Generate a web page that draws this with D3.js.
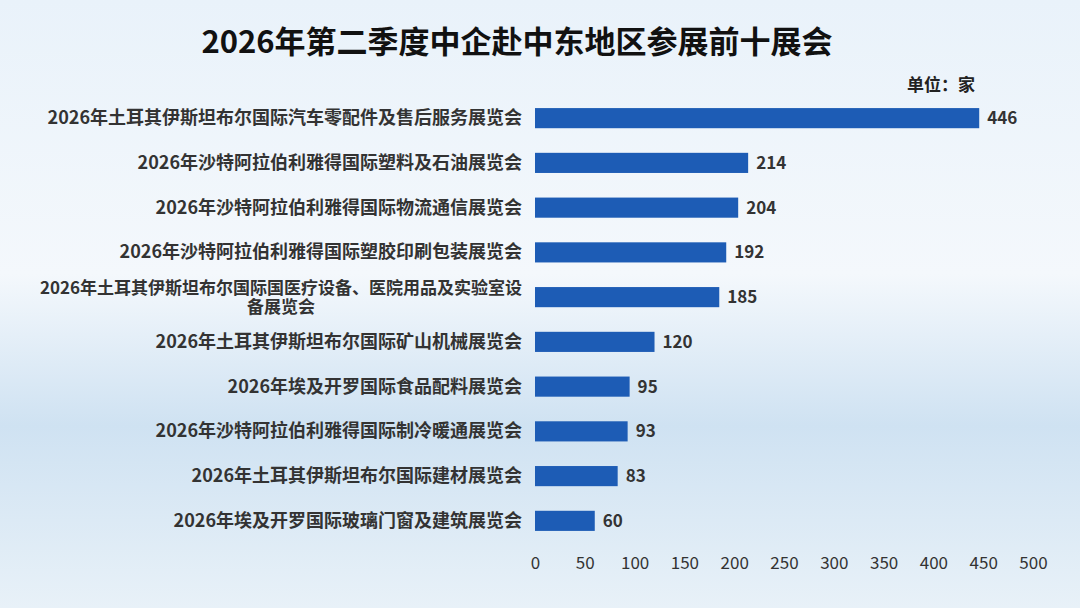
<!DOCTYPE html>
<html><head><meta charset="utf-8">
<script src="https://cdn.jsdelivr.net/npm/d3@7"></script>
<style>
body{margin:0;width:1080px;height:608px;overflow:hidden;font-family:"Noto Sans CJK SC","Noto Sans",sans-serif;}
</style></head><body>
<svg width="1080" height="608"></svg>
<script>
const names = ['2026年土耳其伊斯坦布尔国际汽车零配件及售后服务展览会','2026年沙特阿拉伯利雅得国际塑料及石油展览会','2026年沙特阿拉伯利雅得国际物流通信展览会','2026年沙特阿拉伯利雅得国际塑胶印刷包装展览会','2026年土耳其伊斯坦布尔国际国医疗设备、医院用品及实验室设备展览会','2026年土耳其伊斯坦布尔国际矿山机械展览会','2026年埃及开罗国际食品配料展览会','2026年沙特阿拉伯利雅得国际制冷暖通展览会','2026年土耳其伊斯坦布尔国际建材展览会','2026年埃及开罗国际玻璃门窗及建筑展览会']
const counts = [446, 214, 204, 192, 185, 120, 95, 93, 83, 60]
const ticks = [0, 50, 100, 150, 200, 250, 300, 350, 400, 450, 500]

const svg = d3.select('svg')
const defs = svg.append('defs')
const g1 = defs.append('linearGradient').attr('id', 'bg').attr('x1', 0).attr('y1', 0).attr('x2', 0).attr('y2', 1)
g1.append('stop').attr('offset', '0%').attr('stop-color', '#e9f2fa')
g1.append('stop').attr('offset', '45%').attr('stop-color', '#f4f8fc')
g1.append('stop').attr('offset', '70%').attr('stop-color', '#cfe2f2')
g1.append('stop').attr('offset', '100%').attr('stop-color', '#e8f1f8')
svg.append('rect').attr('width', 1080).attr('height', 608).attr('fill', 'url(#bg)')

svg.append('text').attr('x', 517).attr('y', 53).attr('text-anchor', 'middle')
  .attr('font-size', 31).attr('font-weight', 'bold').attr('fill', '#111')
  .text('2026年第二季度中企赴中东地区参展前十展会')
svg.append('text').attr('x', 975).attr('y', 91).attr('text-anchor', 'end')
  .attr('font-size', 17).attr('font-weight', 'bold').attr('fill', '#222').text('单位：家')

const x = d3.scaleLinear().domain([0, 500]).range([535, 1033])
const y = d3.scaleBand().domain(names).range([96, 543]).paddingInner(0.55).paddingOuter(0.27)

svg.selectAll('.bar').data(names).enter().append('rect')
  .attr('x', x(0)).attr('y', d => y(d))
  .attr('width', (d, i) => x(counts[i]) - x(0)).attr('height', y.bandwidth())
  .attr('fill', '#1d5cb5')

svg.selectAll('.val').data(names).enter().append('text')
  .attr('x', (d, i) => x(counts[i]) + 8).attr('y', d => y(d) + y.bandwidth() / 2 + 6)
  .attr('font-size', 17).attr('font-weight', 'bold').attr('fill', '#333')
  .text((d, i) => counts[i])

const maxChars = 30
names.forEach(n => {
  const cy = y(n) + y.bandwidth() / 2
  if (n.length <= maxChars) {
    svg.append('text').attr('x', 522).attr('y', cy + 6).attr('text-anchor', 'end')
      .attr('font-size', 18).attr('font-weight', 'bold').attr('fill', '#333').text(n)
  } else {
    const t1 = svg.append('text').attr('x', 522).attr('y', cy - 3).attr('text-anchor', 'end')
      .attr('font-size', 17).attr('font-weight', 'bold').attr('fill', '#333').text(n.slice(0, maxChars))
    const w = t1.node().getComputedTextLength()
    svg.append('text').attr('x', 522 - w / 2).attr('y', cy + 16).attr('text-anchor', 'middle')
      .attr('font-size', 17).attr('font-weight', 'bold').attr('fill', '#333').text(n.slice(maxChars))
  }
})

const axis = svg.append('g').attr('transform', 'translate(0,543)')
  .call(d3.axisBottom(x).tickValues(ticks).tickSize(0).tickPadding(14))
axis.select('.domain').remove()
axis.selectAll('text').attr('font-size', 17).attr('fill', '#333')
  .attr('font-family', '"Noto Sans CJK SC","Noto Sans",sans-serif')
</script>
</body></html>
